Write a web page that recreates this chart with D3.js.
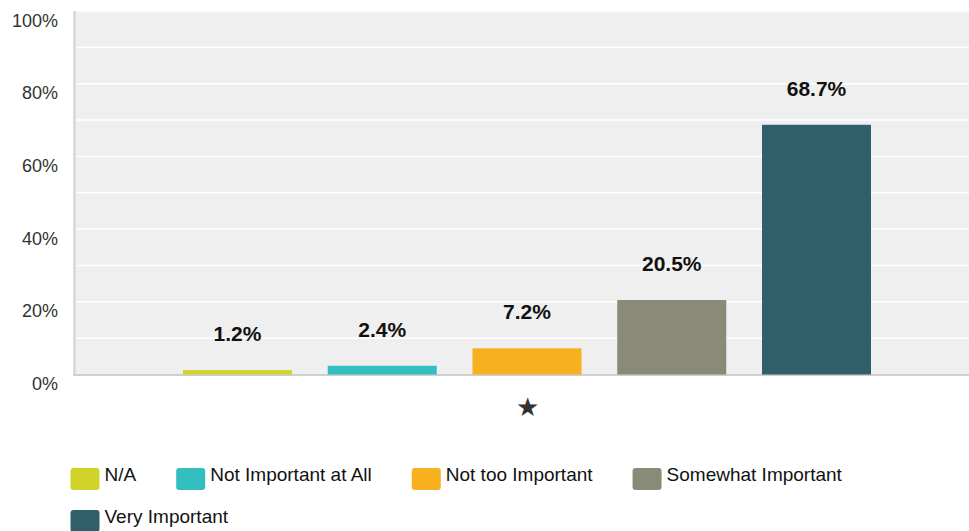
<!DOCTYPE html>
<html>
<head>
<meta charset="utf-8">
<script src="https://cdn.jsdelivr.net/npm/d3@7"></script>
<style>
  body { margin: 0; background: #fff; }
  text { font-family: "Liberation Sans", Arial, sans-serif; }
</style>
</head>
<body>
<svg id="chart" width="969" height="531"></svg>
<script>
let categories = ["N/A", "Not Important at All", "Not too Important", "Somewhat Important", "Very Important"];
let values = [1.2, 2.4, 7.2, 20.5, 68.7];
let colors = ["#d0d42a", "#33bfbf", "#f7b01e", "#898a78", "#2f5f6b"];
let groups = ["\u2605"];
let yTicks = [0, 20, 40, 60, 80, 100];
let gridTicks = [10, 20, 30, 40, 50, 60, 70, 80, 90, 100];

let svg = d3.select("#chart");
let plotLeft = 75, plotRight = 979, plotTop = 11, plotBottom = 374.5;

let yScale = d3.scaleLinear().domain([0, 100]).range([plotBottom, plotTop]);

let x0 = d3.scalePoint().domain(groups).range([plotLeft, plotRight]).padding(0.5);
let x1 = d3.scaleBand()
           .domain(categories)
           .range([x0(groups[0]) - 344, x0(groups[0]) + 344])
           .paddingInner(0.247)
           .paddingOuter(0);

// plot background
svg.append("rect")
   .attr("x", plotLeft).attr("y", plotTop)
   .attr("width", 969 - plotLeft).attr("height", plotBottom - plotTop)
   .attr("fill", "#efefef");

// gridlines
svg.append("g")
   .selectAll("line")
   .data(gridTicks)
   .enter().append("line")
   .attr("x1", plotLeft + 1).attr("x2", 969)
   .attr("y1", d => yScale(d)).attr("y2", d => yScale(d))
   .attr("stroke", "#ffffff")
   .attr("stroke-width", 1.5);

// y axis labels
let yAxis = d3.axisLeft(yScale).tickValues(yTicks).tickFormat(d => d + "%").tickSize(0).tickPadding(0);
let yg = svg.append("g")
   .attr("transform", "translate(58, 0)")
   .call(yAxis);
yg.select(".domain").remove();
yg.selectAll("text")
  .attr("dy", 0)
  .attr("y", 15)
  .attr("font-size", 18)
  .attr("font-family", "Liberation Sans, Arial, sans-serif")
  .attr("fill", "#333");

// axis lines
svg.append("line")
   .attr("x1", plotLeft - 0.5).attr("x2", plotLeft - 0.5)
   .attr("y1", plotTop).attr("y2", plotBottom + 1)
   .attr("stroke", "#dcdcdc").attr("stroke-width", 3);
svg.append("line")
   .attr("x1", plotLeft - 2).attr("x2", 969)
   .attr("y1", plotBottom + 0.5).attr("y2", plotBottom + 0.5)
   .attr("stroke", "#cfcfcf").attr("stroke-width", 2);

// bars
let data = categories.map((c, i) => ({cat: c, value: values[i], color: colors[i]}));

svg.append("g")
   .selectAll("rect")
   .data(data)
   .enter().append("rect")
   .attr("x", d => x1(d.cat))
   .attr("y", d => yScale(d.value))
   .attr("width", x1.bandwidth())
   .attr("height", d => plotBottom - yScale(d.value))
   .attr("fill", d => d.color);

// value labels
svg.append("g")
   .selectAll("text")
   .data(data)
   .enter().append("text")
   .attr("x", d => x1(d.cat) + x1.bandwidth() / 2)
   .attr("y", d => yScale(d.value) - 29)
   .attr("text-anchor", "middle")
   .attr("font-size", 21)
   .attr("font-weight", "bold")
   .attr("fill", "#111")
   .text(d => d.value.toFixed(1) + "%");

// x axis (group label)
let xAxis = d3.axisBottom(x0).tickSize(0).tickPadding(0);
let xg = svg.append("g")
   .attr("transform", "translate(0," + plotBottom + ")")
   .call(xAxis);
xg.select(".domain").remove();
xg.selectAll("text")
  .attr("dy", 0)
  .attr("y", 41)
  .attr("font-size", 26)
  .attr("font-family", "DejaVu Sans, sans-serif")
  .attr("fill", "#333");

// legend
let legend = svg.append("g");
let lx = 70.5, ly = 468, rowH = 42;
data.forEach(d => {
  let item = legend.append("g");
  item.append("rect")
      .attr("width", 29).attr("height", 22)
      .attr("rx", 3)
      .attr("fill", d.color);
  let t = item.append("text")
      .attr("x", 34).attr("y", 13)
      .attr("font-size", 19)
      .attr("fill", "#111")
      .text(d.cat);
  let w = 34 + t.node().getComputedTextLength();
  if (lx + w > 969) { lx = 70.5; ly += rowH; }
  item.attr("transform", "translate(" + lx + "," + ly + ")");
  lx += w + 40;
});
</script>
</body>
</html>
